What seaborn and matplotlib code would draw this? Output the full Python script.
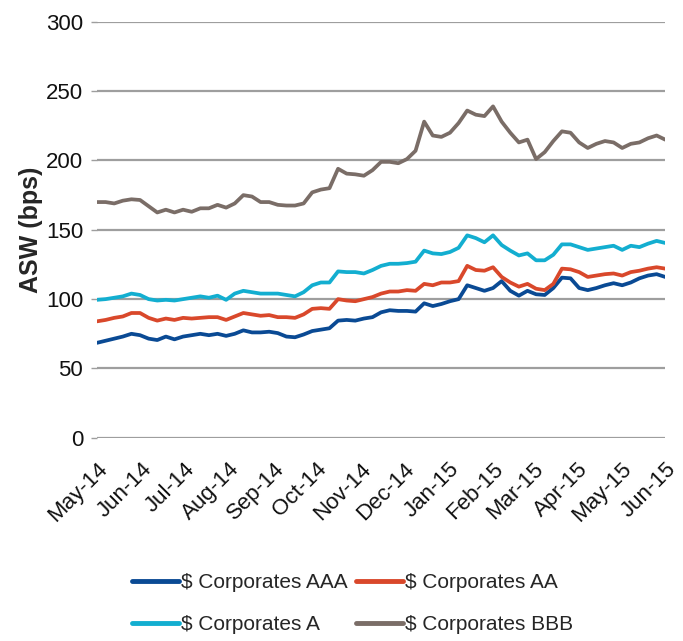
import matplotlib
matplotlib.use("Agg")
import matplotlib.pyplot as plt
from matplotlib import font_manager
import seaborn as sns
import pandas as pd

# ---------------- data (~6-day steps) ----------------
start_date = "2014-05-01"
step = "6D"

aaa = [68.5, 70, 71.5, 73, 75, 74, 71.5, 70.5, 73, 71, 73, 74, 75, 74,
       75, 73.5, 75, 77.5, 76, 76, 76.5, 75.5, 73, 72.5, 74.5, 77, 78,
       79, 84.5, 85, 84.5, 86, 87, 90.5, 92, 91.5, 91.5, 91, 97, 95,
       96.5, 98.5, 100, 110, 108, 106, 108, 113, 106, 102.5, 106, 103.5, 103, 108,
       115.5, 115, 108, 106.5, 108, 110, 111.5, 110, 112, 115, 117, 118, 116]

aa = [84, 85, 86.5, 87.5, 90, 90, 86.5, 84.5, 86, 85, 86.5, 86, 86.5, 87,
      87, 85, 87.5, 90, 89, 88, 88.5, 87, 87, 86.5, 89, 93, 93.5,
      93, 100, 99, 98.5, 100, 101.5, 104, 105.5, 105.5, 106.5, 106, 111, 110,
      112, 112, 113, 124, 121, 120.5, 123, 116, 112, 109, 111, 107.5, 106.5, 111,
      122, 121.5, 119.5, 116, 117, 118, 118.5, 117, 119.5, 120.5, 122, 123, 122]

a = [99.5, 100, 101, 102, 104, 103, 100, 99, 99.5, 99, 100, 101, 102, 101,
     102.5, 99.5, 104, 106, 105, 104, 104, 104, 103, 102, 105, 110, 112,
     112, 120, 119.5, 119.5, 118.5, 121, 124, 125.5, 125.5, 126, 127, 135, 133,
     132.5, 134, 137, 146, 144, 141, 146, 139, 135, 131.5, 133, 128, 128, 132,
     139.5, 139.5, 137.5, 135.5, 136.5, 137.5, 138.5, 135.5, 138.5, 137.5, 140, 142, 140.5]

bbb = [170, 170, 169, 171, 172, 171.5, 167, 162.5, 164.5, 162.5, 164.5, 163, 165.5, 165.5,
       168, 166, 169, 175, 174, 170, 170, 168, 167.5, 167.5, 169, 177, 179,
       180, 194, 190.5, 190, 189, 193, 199, 199, 198, 201, 207, 228, 218,
       217, 220, 227, 236, 233, 232, 239, 228, 220, 213, 215, 201, 206, 214,
       221, 220, 213, 209, 212, 214, 213, 209, 212, 213, 216, 218, 215]

series_names = ["$ Corporates AAA", "$ Corporates AA", "$ Corporates A", "$ Corporates BBB"]
series_colors = ["#0A4A94", "#D9482B", "#13AED0", "#7A6D67"]
y_ticks = [0, 50, 100, 150, 200, 250, 300]
month_ticks = ["2014-05-01", "2014-06-01", "2014-07-01", "2014-08-01", "2014-09-01",
               "2014-10-01", "2014-11-01", "2014-12-01", "2015-01-01", "2015-02-01",
               "2015-03-01", "2015-04-01", "2015-05-01", "2015-06-01"]
month_labels = ["May-14", "Jun-14", "Jul-14", "Aug-14", "Sep-14", "Oct-14", "Nov-14",
                "Dec-14", "Jan-15", "Feb-15", "Mar-15", "Apr-15", "May-15", "Jun-15"]

# ---------------- build table ----------------
dates = pd.date_range(start_date, periods=len(aaa), freq=step)
frames = []
for name, vals in zip(series_names, [aaa, aa, a, bbb]):
    frames.append(pd.DataFrame({"date": dates, "value": vals, "series": name}))
df = pd.concat(frames, ignore_index=True)

# ---------------- style ----------------
sns.set_theme(style="white")
avail = {f.name for f in font_manager.fontManager.ttflist}
main_font = "Liberation Sans Narrow" if "Liberation Sans Narrow" in avail else "Liberation Sans"
plt.rcParams["font.family"] = [main_font, "DejaVu Sans"]

fig = plt.figure(figsize=(6.83, 6.41), dpi=100)
ax = fig.add_axes([0.142, 0.317, 0.832, 0.649])

sns.lineplot(data=df, x="date", y="value", hue="series",
             palette=dict(zip(series_names, series_colors)),
             hue_order=series_names, linewidth=2.7, ax=ax)

ax.set_ylim(0, 300)
ax.set_yticks(y_ticks)
ax.set_xlim(pd.Timestamp(month_ticks[0]), pd.Timestamp(month_ticks[-1]))
ax.set_xticks([pd.Timestamp(d) for d in month_ticks])
ax.set_xticklabels(month_labels, rotation=45, ha="right", rotation_mode="anchor")

ax.yaxis.grid(True, color="#9E9E9E", linewidth=1.6)
ax.xaxis.grid(False)
for s in ax.spines.values():
    s.set_visible(False)
ax.tick_params(axis="y", which="both", left=True, length=4, width=1,
               color="#9E9E9E", labelsize=16, pad=6, labelcolor="#111111")
ax.tick_params(axis="x", bottom=False, labelsize=16, pad=9, labelcolor="#111111")
ax.set_axisbelow(True)

ax.set_xlabel("")
ax.set_ylabel("ASW (bps)", fontsize=18, fontweight="bold",
              family=["Liberation Sans", "DejaVu Sans"], labelpad=2)

handles, labels = ax.get_legend_handles_labels()
ax.get_legend().remove()
# legend fills column-wise; order so rows read AAA, AA / A, BBB
order = [0, 2, 1, 3]
leg = fig.legend([handles[i] for i in order], [labels[i] for i in order],
                 loc="center", bbox_to_anchor=(0.516, 0.0585),
                 ncol=2, frameon=False, fontsize=15, handlelength=2.25,
                 handletextpad=0.1, columnspacing=0.4, labelspacing=1.1)
for h in leg.get_lines():
    h.set_linewidth(3.5)

fig.savefig("out.png", dpi=100)
